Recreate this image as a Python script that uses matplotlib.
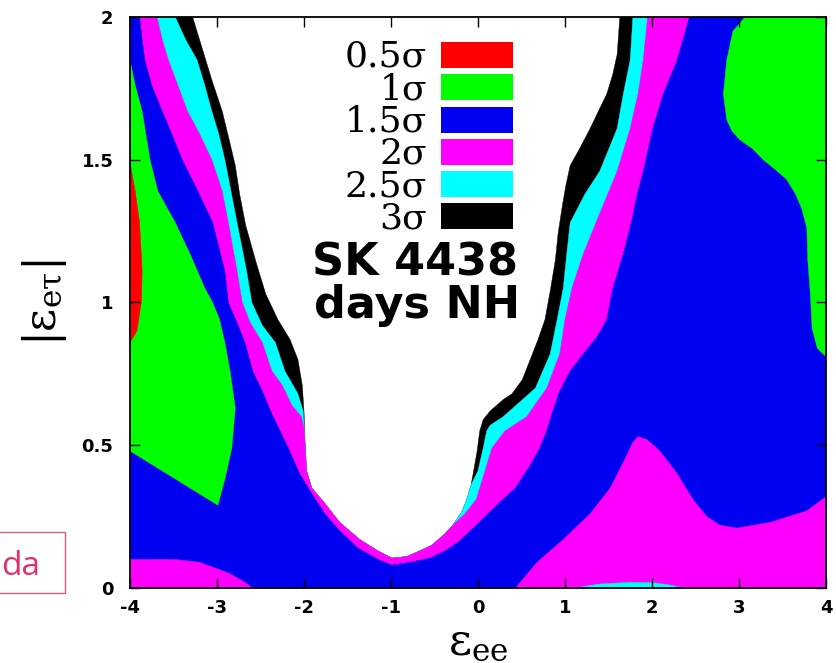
import matplotlib
matplotlib.use("Agg")
import matplotlib.pyplot as plt
from matplotlib.patches import Polygon, Rectangle

# ---------------- data ----------------
sigma_labels = ["0.5σ", "1σ", "1.5σ", "2σ", "2.5σ", "3σ"]
sigma_colors = ["#ff0000", "#00ff00", "#0000f0", "#ff00ff", "#00ffff", "#000000"]

x_ticks = [-4, -3, -2, -1, 0, 1, 2, 3, 4]
x_tick_labels = ["-4", "-3", "-2", "-1", "0", "1", "2", "3", "4"]
y_ticks = [0, 0.5, 1, 1.5, 2]
y_tick_labels = ["0", "0.5", "1", "1.5", "2"]

x_range = (-4, 4)
y_range = (0, 2)

# contour edges (eps_ee, |eps_etau|), each running from the top-left, around the
# bottom of the excluded U-shaped region, back up to the top edge
edge_3sigma = [(-3.28, 2.00), (-3.16, 1.88), (-3.06, 1.78), (-2.94, 1.67), (-2.86, 1.57),
               (-2.79, 1.48), (-2.74, 1.38), (-2.67, 1.27), (-2.55, 1.14), (-2.44, 1.03),
               (-2.30, 0.94), (-2.16, 0.87), (-2.07, 0.80), (-2.02, 0.71), (-2.00, 0.62),
               (-1.99, 0.52), (-1.97, 0.41), (-1.91, 0.35), (-1.77, 0.30), (-1.59, 0.23),
               (-1.36, 0.17), (-1.15, 0.13), (-0.99, 0.105), (-0.82, 0.11), (-0.67, 0.13),
               (-0.53, 0.15), (-0.38, 0.19), (-0.29, 0.22), (-0.18, 0.27), (-0.13, 0.31),
               (-0.08, 0.36), (-0.05, 0.41), (-0.01, 0.48), (0.02, 0.55), (0.06, 0.59),
               (0.14, 0.62), (0.29, 0.66), (0.39, 0.68), (0.51, 0.73), (0.60, 0.80),
               (0.69, 0.87), (0.77, 0.94), (0.83, 1.04), (0.89, 1.15), (0.92, 1.24),
               (0.97, 1.34), (1.01, 1.41), (1.06, 1.48), (1.17, 1.54), (1.29, 1.61),
               (1.40, 1.68), (1.48, 1.73), (1.55, 1.80), (1.60, 1.87), (1.63, 2.00)]

edge_2p5sigma = [(-3.48, 2.00), (-3.36, 1.92), (-3.23, 1.85), (-3.14, 1.76), (-3.06, 1.67),
                 (-2.98, 1.59), (-2.91, 1.50), (-2.84, 1.39), (-2.77, 1.28), (-2.66, 1.11),
                 (-2.60, 1.00), (-2.48, 0.92), (-2.33, 0.86), (-2.22, 0.76), (-2.07, 0.68),
                 (-2.01, 0.62), (-1.99, 0.52), (-1.97, 0.41), (-1.91, 0.35), (-1.77, 0.30),
                 (-1.59, 0.23), (-1.36, 0.17), (-1.15, 0.13), (-0.99, 0.105), (-0.82, 0.11),
                 (-0.67, 0.13), (-0.53, 0.15), (-0.38, 0.19), (-0.29, 0.22), (-0.18, 0.27),
                 (-0.13, 0.31), (-0.08, 0.36), (-0.05, 0.38), (0.00, 0.41), (0.06, 0.49),
                 (0.10, 0.55), (0.14, 0.57), (0.29, 0.60), (0.66, 0.70), (0.83, 0.82),
                 (0.91, 0.94), (0.98, 1.05), (1.02, 1.17), (1.06, 1.28), (1.23, 1.38),
                 (1.40, 1.46), (1.60, 1.61), (1.67, 1.73), (1.75, 1.85), (1.78, 2.00)]

edge_2sigma = [(-3.69, 2.00), (-3.63, 1.92), (-3.56, 1.85), (-3.45, 1.76), (-3.34, 1.67),
               (-3.20, 1.59), (-3.06, 1.50), (-2.94, 1.39), (-2.87, 1.28), (-2.77, 1.11),
               (-2.71, 1.00), (-2.62, 0.93), (-2.48, 0.86), (-2.37, 0.76), (-2.25, 0.71),
               (-2.14, 0.64), (-2.03, 0.60), (-2.00, 0.56), (-1.99, 0.52), (-1.97, 0.41),
               (-1.91, 0.35), (-1.77, 0.30), (-1.59, 0.23), (-1.36, 0.17), (-1.15, 0.13),
               (-0.99, 0.105), (-0.82, 0.11), (-0.67, 0.13), (-0.53, 0.15), (-0.38, 0.19),
               (-0.29, 0.22), (-0.15, 0.26), (-0.02, 0.31), (0.07, 0.40), (0.16, 0.49),
               (0.31, 0.55), (0.56, 0.60), (0.79, 0.70), (0.94, 0.82), (1.00, 0.94),
               (1.08, 1.05), (1.21, 1.17), (1.37, 1.29), (1.60, 1.46), (1.75, 1.61),
               (1.84, 1.73), (1.90, 1.85), (1.95, 2.00)]

edge_1p5sigma = [(-3.89, 2.00), (-3.86, 1.92), (-3.83, 1.85), (-3.75, 1.76), (-3.63, 1.67),
                 (-3.52, 1.59), (-3.40, 1.50), (-3.22, 1.39), (-3.05, 1.28), (-2.91, 1.11),
                 (-2.87, 1.00), (-2.77, 0.93), (-2.68, 0.86), (-2.59, 0.76), (-2.48, 0.69),
                 (-2.37, 0.61), (-2.18, 0.49), (-2.05, 0.40), (-1.91, 0.33), (-1.76, 0.26),
                 (-1.59, 0.20), (-1.38, 0.14), (-1.15, 0.10), (-0.99, 0.08), (-0.78, 0.09),
                 (-0.55, 0.105), (-0.38, 0.13), (-0.23, 0.16), (-0.09, 0.20), (0.08, 0.25),
                 (0.25, 0.30), (0.43, 0.35), (0.60, 0.43), (0.71, 0.49), (0.79, 0.55),
                 (0.86, 0.62), (0.94, 0.69), (1.06, 0.76), (1.21, 0.82), (1.37, 0.88),
                 (1.48, 0.94), (1.55, 1.05), (1.67, 1.17), (1.77, 1.29), (1.83, 1.38),
                 (1.90, 1.46), (2.01, 1.61), (2.13, 1.73), (2.29, 1.85), (2.43, 2.00)]

island_2sigma_left = [(-4.00, 0.10), (-3.48, 0.10), (-3.20, 0.09), (-3.02, 0.07), (-2.85, 0.05),
                      (-2.68, 0.02), (-2.59, 0.00), (-4.00, 0.00)]

island_2sigma_right = [(0.43, 0.00), (0.68, 0.09), (0.98, 0.17), (1.29, 0.26), (1.52, 0.35),
                       (1.67, 0.44), (1.78, 0.51), (1.84, 0.53), (1.94, 0.52), (2.09, 0.48),
                       (2.29, 0.40), (2.47, 0.31), (2.63, 0.25), (2.78, 0.22), (2.98, 0.21),
                       (3.36, 0.23), (3.78, 0.27), (4.00, 0.32), (4.00, 0.00)]

island_2p5sigma_bottom = [(1.11, 0.00), (1.40, 0.014), (1.75, 0.02), (2.03, 0.018),
                          (2.21, 0.01), (2.36, 0.00)]

island_1sigma_left = [(-4.00, 1.85), (-3.94, 1.76), (-3.86, 1.67), (-3.77, 1.50), (-3.68, 1.39),
                      (-3.48, 1.28), (-3.31, 1.17), (-3.14, 1.05), (-3.05, 1.00), (-2.97, 0.94),
                      (-2.91, 0.86), (-2.85, 0.76), (-2.79, 0.63), (-2.83, 0.49), (-2.91, 0.38),
                      (-2.99, 0.29), (-4.00, 0.48)]

island_1sigma_right = [(3.07, 2.00), (2.93, 1.95), (2.86, 1.85), (2.82, 1.73), (2.86, 1.64),
                       (2.92, 1.60), (3.01, 1.57), (3.15, 1.54), (3.28, 1.50), (3.44, 1.46),
                       (3.55, 1.43), (3.65, 1.38), (3.72, 1.33), (3.78, 1.26), (3.79, 1.15),
                       (3.82, 1.03), (3.84, 0.91), (3.90, 0.84), (4.00, 0.81), (4.00, 2.00)]

island_0p5sigma_left = [(-4.00, 1.49), (-3.94, 1.39), (-3.89, 1.28), (-3.86, 1.11),
                        (-3.87, 1.00), (-3.92, 0.90), (-4.00, 0.86)]

plot_title_lines = ["SK 4438", "days NH"]

# ---------------- figure ----------------
fig = plt.figure(figsize=(8.37, 6.63), dpi=100)
ax = fig.add_axes([130 / 837, 75 / 663, 696 / 837, 571 / 663])
ax.set_xlim(*x_range)
ax.set_ylim(*y_range)
ax.set_facecolor("white")


def outside(edge):
    x0, x1 = x_range
    y0, y1 = y_range
    return list(edge) + [(x1, y1), (x1, y0), (x0, y0), (x0, y1)]


# nested filled regions, painted from the widest (3 sigma) inward
layers = [
    (outside(edge_3sigma), sigma_colors[5]),
    (outside(edge_2p5sigma), sigma_colors[4]),
    (outside(edge_2sigma), sigma_colors[3]),
    (outside(edge_1p5sigma), sigma_colors[2]),
    (island_2sigma_left, sigma_colors[3]),
    (island_2sigma_right, sigma_colors[3]),
    (island_2p5sigma_bottom, sigma_colors[4]),
    (island_1sigma_left, sigma_colors[1]),
    (island_1sigma_right, sigma_colors[1]),
    (island_0p5sigma_left, sigma_colors[0]),
]
for pts, col in layers:
    ax.add_patch(Polygon(pts, closed=True, facecolor=col, edgecolor=col,
                         linewidth=0.3, joinstyle="round", zorder=1))

# axes styling
for sp in ax.spines.values():
    sp.set_linewidth(1.3)
    sp.set_zorder(5)
ax.set_xticks(x_ticks)
ax.set_xticklabels(x_tick_labels)
ax.set_yticks(y_ticks)
ax.set_yticklabels(y_tick_labels)
ax.tick_params(direction="in", length=7, width=1.0, top=True, right=True,
               labelsize=13, pad=8)
ax.tick_params(axis="y", pad=12)
for lab in ax.get_xticklabels() + ax.get_yticklabels():
    lab.set_fontfamily("DejaVu Sans")
    lab.set_fontweight("bold")

ax.set_xlabel(r"$\mathregular{ε_{ee}}$", fontsize=32, va="top", family="DejaVu Serif")
ax.set_ylabel(r"$\mathregular{|ε_{eτ}|}$", fontsize=32, va="bottom", family="DejaVu Serif")
ax.xaxis.set_label_coords(0.50, -0.058)
ax.yaxis.set_label_coords(-0.088, 0.50)

# legend (text + colour swatch)
for i, (lab, col) in enumerate(zip(sigma_labels, sigma_colors)):
    yb = (520 - 32.3 * i) / 571
    ax.add_patch(Rectangle((0.447, yb), 0.103, 26 / 571, transform=ax.transAxes,
                           facecolor=col, edgecolor="none", zorder=6))
    ax.text(0.427, yb + 1 / 571, lab, transform=ax.transAxes, ha="right",
            va="baseline", fontsize=26, family="DejaVu Serif", zorder=6)

ax.text(0.410, 0.548, plot_title_lines[0], transform=ax.transAxes, ha="center",
        va="baseline", fontsize=32, fontweight="bold", family="DejaVu Sans", zorder=6)
ax.text(0.412, 0.473, plot_title_lines[1], transform=ax.transAxes, ha="center",
        va="baseline", fontsize=32, fontweight="bold", family="DejaVu Sans", zorder=6)

# overlay fragment at bottom-left
fig.add_artist(Rectangle((-10 / 837, 1 - 593 / 663), 75 / 837, 61 / 663,
                         transform=fig.transFigure, facecolor="none",
                         edgecolor="#d95a86", linewidth=1.0))
fig.text(40 / 837, 1 - 575 / 663, "da", ha="right", va="baseline", fontsize=24,
         color="#e0306c", family="Open Sans")

fig.savefig("out.png", dpi=100)
